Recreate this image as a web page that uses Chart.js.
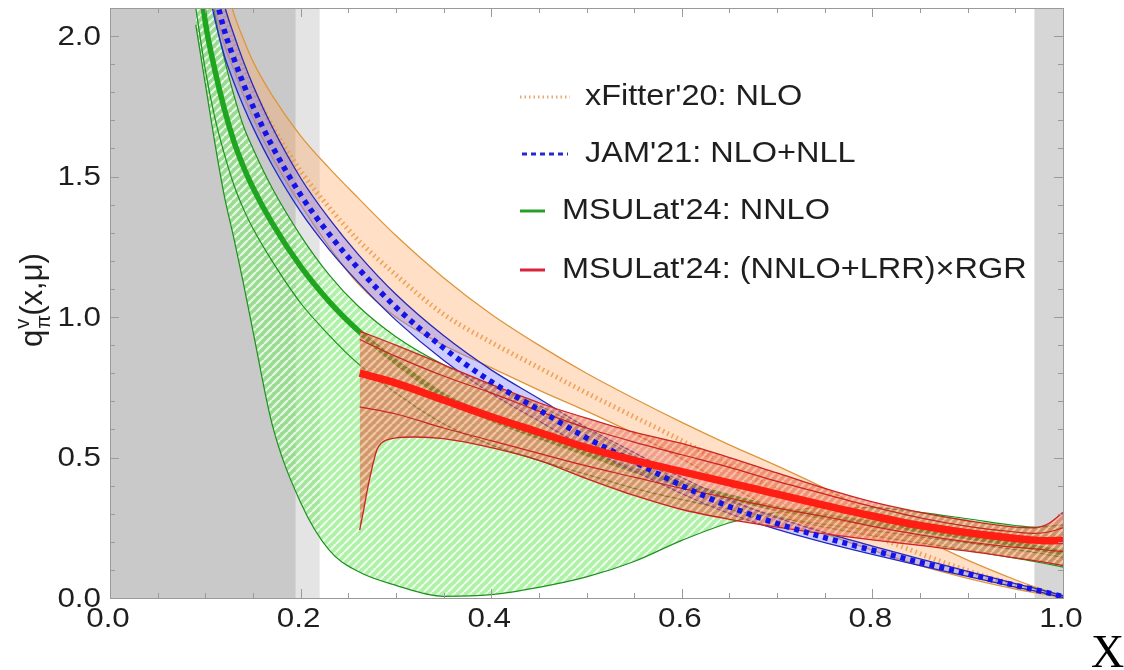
<!DOCTYPE html>
<html>
<head>
<meta charset="utf-8">
<title>Pion valence PDF</title>
<script src="https://cdn.jsdelivr.net/npm/chart.js@4.4.1/dist/chart.umd.min.js"></script>
<style>
  html, body { margin: 0; padding: 0; background: #fff; }
  #wrap { width: 1124px; height: 670px; position: relative; }
</style>
</head>
<body>
<div id="wrap"><canvas id="pdfChart"></canvas></div>
<script>
// x grid shared by the xFitter, JAM and MSULat NNLO curves
const xGrid = [0.09, 0.1, 0.11, 0.12, 0.13, 0.14, 0.15, 0.17, 0.2, 0.23, 0.26, 0.3, 0.35, 0.4, 0.45, 0.5, 0.55, 0.6, 0.65, 0.7, 0.75, 0.8, 0.85, 0.9, 0.95, 0.97, 1.0];

// xFitter'20 NLO
const xfCentral = [2.65, 2.43, 2.24, 2.09, 1.98, 1.89, 1.81, 1.68, 1.52, 1.39, 1.275, 1.15, 1.01, 0.91, 0.82, 0.73, 0.645, 0.56, 0.47, 0.385, 0.30, 0.225, 0.158, 0.097, 0.046, 0.028, 0.004];
const xfUpper   = [2.85, 2.6, 2.38, 2.21, 2.08, 1.99, 1.91, 1.79, 1.645, 1.53, 1.425, 1.29, 1.14, 1.01, 0.90, 0.80, 0.71, 0.625, 0.545, 0.47, 0.39, 0.30, 0.215, 0.135, 0.065, 0.04, 0.008];
const xfLower   = [2.45, 2.26, 2.10, 1.97, 1.88, 1.79, 1.71, 1.57, 1.40, 1.25, 1.12, 1.00, 0.90, 0.82, 0.74, 0.665, 0.585, 0.495, 0.40, 0.31, 0.23, 0.17, 0.115, 0.07, 0.032, 0.019, 0.002];

// JAM'21 NLO+NLL
const jamCentral = [2.55, 2.34, 2.16, 2.02, 1.92, 1.83, 1.75, 1.61, 1.435, 1.295, 1.175, 1.035, 0.89, 0.77, 0.67, 0.57, 0.485, 0.40, 0.325, 0.265, 0.215, 0.17, 0.127, 0.086, 0.045, 0.03, 0.005];
const jamUpper   = [2.67, 2.45, 2.26, 2.11, 2.005, 1.91, 1.825, 1.678, 1.495, 1.35, 1.225, 1.081, 0.934, 0.812, 0.71, 0.607, 0.518, 0.429, 0.35, 0.286, 0.233, 0.185, 0.139, 0.095, 0.051, 0.035, 0.008];
const jamLower   = [2.43, 2.23, 2.06, 1.93, 1.835, 1.75, 1.675, 1.542, 1.375, 1.24, 1.125, 0.989, 0.846, 0.728, 0.63, 0.533, 0.452, 0.371, 0.30, 0.244, 0.197, 0.155, 0.115, 0.077, 0.039, 0.025, 0.002];

// MSULat'24 NNLO: central, inner edge and the two outer edges of the band
const nnloCentral = [2.32, 2.05, 1.88, 1.74, 1.625, 1.535, 1.46, 1.335, 1.18, 1.055, 0.953, 0.84, 0.72, 0.638, 0.575, 0.515, 0.455, 0.405, 0.36, 0.318, 0.29, 0.265, 0.243, 0.218, 0.192, 0.18, 0.16];
const nnloInner   = [2.10, 1.88, 1.71, 1.58, 1.47, 1.385, 1.315, 1.20, 1.05, 0.935, 0.835, 0.73, 0.62, 0.545, 0.49, 0.44, 0.39, 0.35, 0.315, 0.285, 0.262, 0.24, 0.218, 0.196, 0.172, 0.162, 0.145];
const nnloEdgeA   = [2.04, 1.83, 1.62, 1.43, 1.28, 1.12, 0.95, 0.62, 0.34, 0.17, 0.095, 0.045, 0.006, 0.012, 0.038, 0.075, 0.13, 0.205, 0.268, 0.305, 0.322, 0.322, 0.305, 0.282, 0.258, 0.252, 0.26];
const nnloEdgeB   = [2.55, 2.3, 2.08, 1.92, 1.79, 1.68, 1.6, 1.46, 1.29, 1.15, 1.04, 0.93, 0.83, 0.755, 0.685, 0.60, 0.505, 0.415, 0.345, 0.29, 0.252, 0.222, 0.196, 0.17, 0.142, 0.13, 0.11];

// MSULat'24 (NNLO+LRR)xRGR, defined from x = 0.262
const latX = [0.262, 0.3, 0.35, 0.4, 0.45, 0.5, 0.55, 0.6, 0.65, 0.7, 0.75, 0.8, 0.85, 0.9, 0.95, 0.97, 0.985, 1.0];
const rgrCentral  = [0.80, 0.765, 0.705, 0.645, 0.59, 0.535, 0.49, 0.45, 0.41, 0.37, 0.33, 0.292, 0.258, 0.232, 0.212, 0.206, 0.204, 0.205];
const rgrUpper    = [0.95, 0.90, 0.83, 0.76, 0.695, 0.64, 0.59, 0.55, 0.50, 0.445, 0.39, 0.342, 0.305, 0.275, 0.252, 0.25, 0.265, 0.305];
const rgrInnerUp  = [0.92, 0.86, 0.79, 0.73, 0.665, 0.605, 0.555, 0.51, 0.465, 0.415, 0.37, 0.325, 0.285, 0.255, 0.235, 0.23, 0.235, 0.25];
const rgrInnerLow = [0.68, 0.655, 0.605, 0.56, 0.515, 0.47, 0.43, 0.39, 0.355, 0.32, 0.29, 0.255, 0.225, 0.2, 0.18, 0.175, 0.17, 0.165];
const latEdgeX = [0.262, 0.266, 0.27, 0.275, 0.28, 0.285, 0.29, 0.3, 0.32, 0.35, 0.4, 0.45, 0.5, 0.55, 0.6, 0.65, 0.7, 0.75, 0.8, 0.85, 0.9, 0.95, 0.97, 0.985, 1.0];
const rgrLower = [0.242, 0.31, 0.384, 0.463, 0.527, 0.552, 0.562, 0.57, 0.573, 0.567, 0.535, 0.49, 0.425, 0.365, 0.315, 0.28, 0.252, 0.228, 0.207, 0.187, 0.167, 0.143, 0.133, 0.125, 0.115];

// axes
const xTickValues = [0, 0.2, 0.4, 0.6, 0.8, 1.0];
const yTickValues = [0, 0.5, 1.0, 1.5, 2.0];
const xTickLabels = ['0.0', '0.2', '0.4', '0.6', '0.8', '1.0'];
const yTickLabels = ['0.0', '0.5', '1.0', '1.5', '2.0'];

// grey x ranges
const shadeFrom = [0, 0.195, 0.97];
const shadeTo = [0.195, 0.22, 1.0];

const legendLabels = ["xFitter'20: NLO", "JAM'21: NLO+NLL", "MSULat'24: NNLO", "MSULat'24: (NNLO+LRR)\u00d7RGR"];

const SX = 1.12;            // horizontal stretch of all text
const FONT = '"Liberation Sans", Arial, sans-serif';
const shadeColors = ['#c9c9c9', '#e4e4e4', '#d6d6d6'];

function pts(xs, ys) {
  return xs.map((x, i) => ({ x: x, y: ys[i] }));
}

// diagonal stripe fill
function hatch(base, stripe, width, size) {
  const c = document.createElement('canvas');
  c.width = size;
  c.height = size;
  const g = c.getContext('2d');
  g.fillStyle = base;
  g.fillRect(0, 0, size, size);
  g.strokeStyle = stripe;
  g.lineWidth = width;
  g.beginPath();
  for (let k = -1; k <= 1; k++) {
    g.moveTo(k * size, size);
    g.lineTo(k * size + size, 0);
  }
  g.stroke();
  return g.createPattern(c, 'repeat');
}

const greenHatch = hatch('rgba(120,232,108,0.6)', 'rgba(255,255,255,0.75)', 2.2, 8);
const redHatch = hatch('rgba(228,88,62,0.58)', 'rgba(255,228,190,0.55)', 2.4, 8);

function curve(xs, ys, color, width, extra) {
  return Object.assign({
    data: pts(xs, ys),
    borderColor: color,
    borderWidth: width,
    pointRadius: 0,
    fill: false,
    cubicInterpolationMode: 'monotone'
  }, extra || {});
}

const GREEN = 'rgb(30,145,30)';
const ORANGE = 'rgb(222,150,60)';
const BLUE = 'rgb(40,40,185)';
const RED = 'rgb(205,35,35)';

// listed bottom to top
const datasets = [
  curve(xGrid, nnloEdgeA, GREEN, 1.2, { fill: 1, backgroundColor: greenHatch }),
  curve(xGrid, nnloEdgeB, GREEN, 1.2),
  curve(xGrid, nnloInner, GREEN, 1.2),
  curve(xGrid, nnloCentral, 'rgb(32,165,32)', 5.5),
  curve(xGrid, xfUpper, ORANGE, 1.3, { fill: 5, backgroundColor: 'rgba(255,170,100,0.36)' }),
  curve(xGrid, xfLower, ORANGE, 1.3),
  curve(xGrid, xfCentral, 'rgba(238,155,75,0.9)', 5, { borderDash: [1.6, 3.4], borderCapStyle: 'butt' }),
  curve(xGrid, jamUpper, BLUE, 1.3, { fill: 8, backgroundColor: 'rgba(120,120,255,0.38)' }),
  curve(xGrid, jamLower, BLUE, 1.3),
  curve(latX, rgrUpper, RED, 1.3, { fill: 10, backgroundColor: redHatch }),
  curve(latEdgeX, rgrLower, RED, 1.3),
  curve(latX, rgrInnerUp, RED, 1.2),
  curve(latX, rgrInnerLow, RED, 1.2),
  curve(xGrid, jamCentral, 'rgb(20,20,230)', 5.5, { borderDash: [5, 5], borderCapStyle: 'butt' }),
  curve(latX, rgrCentral, 'rgb(255,30,20)', 7.5)
];
datasets.forEach((d, i) => { d.order = datasets.length - i; });

function stretchText(ctx, str, px, py, align) {
  const w = ctx.measureText(str).width * SX;
  let left = px;
  if (align === 'center') left = px - w / 2;
  else if (align === 'right') left = px - w;
  ctx.save();
  ctx.translate(left, py);
  ctx.scale(SX, 1);
  ctx.textAlign = 'left';
  ctx.fillText(str, 0, 0);
  ctx.restore();
  return w;
}

const framePlugin = {
  id: 'frame',
  beforeDatasetsDraw(chart) {
    const { ctx, chartArea: a, scales: { x } } = chart;
    ctx.save();
    shadeFrom.forEach((f, i) => {
      const x0 = x.getPixelForValue(f);
      const x1 = x.getPixelForValue(shadeTo[i]);
      ctx.fillStyle = shadeColors[i];
      ctx.fillRect(x0, a.top, x1 - x0, a.bottom - a.top);
    });
    ctx.restore();
  },
  afterDraw(chart) {
    const { ctx, chartArea: a, scales: { x, y } } = chart;
    ctx.save();

    // frame with inward ticks on all sides
    ctx.strokeStyle = '#9a9a9a';
    ctx.lineWidth = 1;
    ctx.strokeRect(Math.round(a.left) + 0.5, Math.round(a.top) + 0.5,
      Math.round(a.right - a.left), Math.round(a.bottom - a.top));
    ctx.beginPath();
    for (let i = 0; i <= 20; i++) {
      const v = i * 0.05;
      const len = i % 4 === 0 ? 9 : 5;
      const px = Math.round(x.getPixelForValue(v)) + 0.5;
      ctx.moveTo(px, a.bottom); ctx.lineTo(px, a.bottom - len);
      ctx.moveTo(px, a.top); ctx.lineTo(px, a.top + len);
    }
    for (let i = 0; i <= 21; i++) {
      const v = i * 0.1;
      const len = i % 5 === 0 ? 9 : 5;
      const py = Math.round(y.getPixelForValue(v)) + 0.5;
      ctx.moveTo(a.left, py); ctx.lineTo(a.left + len, py);
      ctx.moveTo(a.right, py); ctx.lineTo(a.right - len, py);
    }
    ctx.stroke();

    // tick labels
    ctx.fillStyle = '#1e1e1e';
    ctx.font = '28px ' + FONT;
    ctx.textBaseline = 'middle';
    yTickValues.forEach((v, i) => {
      stretchText(ctx, yTickLabels[i], a.left - 9, y.getPixelForValue(v) + 1, 'right');
    });
    xTickValues.forEach((v, i) => {
      stretchText(ctx, xTickLabels[i], x.getPixelForValue(v) - 2, a.bottom + 21, 'center');
    });

    // x axis title
    ctx.font = '46px "Liberation Serif", "Times New Roman", serif';
    ctx.textBaseline = 'alphabetic';
    ctx.fillStyle = '#000';
    ctx.fillText('X', 1091, 667);

    // y axis title, rotated
    ctx.save();
    ctx.translate(42, 347);
    ctx.rotate(-Math.PI / 2);
    ctx.fillStyle = '#1e1e1e';
    ctx.textBaseline = 'alphabetic';
    ctx.font = '31px ' + FONT;
    ctx.fillText('q', 0, 0);
    let cx = ctx.measureText('q').width + 1;
    ctx.font = '20px ' + FONT;
    ctx.fillText('v', cx, -13);
    ctx.fillText('\u03c0', cx, 8);
    cx += ctx.measureText('v').width + 3;
    ctx.font = '31px ' + FONT;
    ctx.fillText('(x,\u03bc)', cx, 0);
    ctx.restore();

    // legend
    const rows = [97, 154, 211, 270];
    const sample = [[520, 570], [522, 568], [520, 545], [520, 545]];
    const textX = [585, 585, 562, 562];
    const styles = [
      { color: 'rgba(232,160,95,0.9)', width: 3, dash: [1.5, 3] },
      { color: 'rgb(40,40,210)', width: 3, dash: [5, 4] },
      { color: 'rgb(40,160,40)', width: 3, dash: [] },
      { color: 'rgb(215,35,60)', width: 3, dash: [] }
    ];
    legendLabels.forEach((lab, i) => {
      const s = styles[i];
      ctx.save();
      ctx.strokeStyle = s.color;
      ctx.lineWidth = s.width;
      ctx.setLineDash(s.dash);
      ctx.beginPath();
      ctx.moveTo(sample[i][0], rows[i]);
      ctx.lineTo(sample[i][1], rows[i]);
      ctx.stroke();
      ctx.restore();
      ctx.fillStyle = '#1e1e1e';
      ctx.font = '29px ' + FONT;
      ctx.textBaseline = 'middle';
      stretchText(ctx, lab, textX[i], rows[i], 'left');
    });

    ctx.restore();
  }
};

new Chart(document.getElementById('pdfChart'), {
  type: 'line',
  data: { datasets: datasets },
  options: {
    responsive: true,
    maintainAspectRatio: false,
    animation: false,
    events: [],
    layout: { padding: { left: 110, right: 61, top: 8, bottom: 72 } },
    scales: {
      x: { type: 'linear', min: 0, max: 1, display: false },
      y: { type: 'linear', min: 0, max: 2.1, display: false }
    },
    plugins: {
      legend: { display: false },
      tooltip: { enabled: false }
    }
  },
  plugins: [framePlugin]
});
</script>
</body>
</html>
